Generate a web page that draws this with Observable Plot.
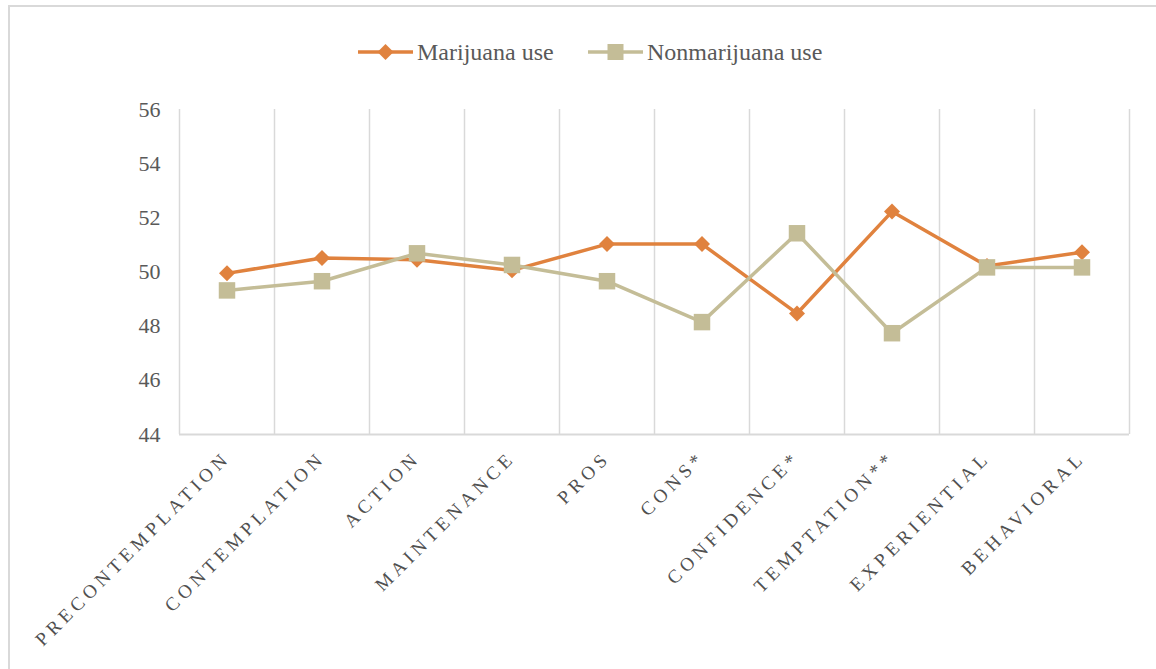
<!DOCTYPE html>
<html>
<head>
<meta charset="utf-8">
<script src="https://cdn.jsdelivr.net/npm/d3@7"></script>
<script src="https://cdn.jsdelivr.net/npm/@observablehq/plot@0.6"></script>
<style>
  html, body { margin: 0; padding: 0; background: #fff; overflow: hidden; width: 1156px; height: 669px; }
  #frame { position: absolute; left: 8px; top: 5px; width: 1200px; height: 720px; border: 2px solid #d9d9d9; box-sizing: border-box; }
  #chart { position: absolute; left: 0; top: 0; }
  #legend { position: absolute; left: 0; top: 34px; width: 1156px; height: 36px; }
  #chart g[aria-label="x-axis tick label"] text { letter-spacing: 4.5px; }
</style>
</head>
<body>
<div id="frame"></div>
<div id="chart"></div>
<div id="legend"></div>
<script>
const categories = ["PRECONTEMPLATION","CONTEMPLATION","ACTION","MAINTENANCE","PROS","CONS*","CONFIDENCE*","TEMPTATION**","EXPERIENTIAL","BEHAVIORAL"];
const marijuanaUse    = [49.95, 50.52, 50.45, 50.06, 51.03, 51.03, 48.47, 52.23, 50.22, 50.73];
const nonmarijuanaUse = [49.32, 49.66, 50.69, 50.26, 49.66, 48.15, 51.43, 47.74, 50.17, 50.17];
const yTicks = [44, 46, 48, 50, 52, 54, 56];
const seriesNames = ["Marijuana use", "Nonmarijuana use"];
const seriesColors = ["#E0823E", "#C4BD97"];

const idx = d3.range(categories.length);
const mData = idx.map(i => ({i, v: marijuanaUse[i]}));
const nData = idx.map(i => ({i, v: nonmarijuanaUse[i]}));
const bounds = d3.range(categories.length + 1).map(i => i - 0.5);

const plot = Plot.plot({
  width: 1156,
  height: 669,
  marginTop: 109,
  marginBottom: 235,
  marginLeft: 179,
  marginRight: 27,
  style: { fontFamily: "'Liberation Serif', 'Times New Roman', serif", color: "#595959", background: "transparent" },
  x: { type: "linear", domain: [-0.5, categories.length - 0.5], label: null },
  y: { domain: [44, 56], label: null },
  marks: [
    Plot.ruleX(bounds, { stroke: "#d9d9d9", strokeWidth: 1.5 }),
    Plot.ruleY([44], { stroke: "#d9d9d9", strokeWidth: 2 }),
    Plot.axisY({ ticks: yTicks, tickSize: 0, tickPadding: 19, fontSize: 22, fill: "#595959", label: null }),
    Plot.axisX({ ticks: idx, tickFormat: i => categories[i], tickRotate: -45, tickSize: 0, tickPadding: 20, fontSize: 19, fill: "#505050", label: null }),
    Plot.line(mData, { x: "i", y: "v", stroke: seriesColors[0], strokeWidth: 3.5 }),
    Plot.dot(mData, { x: "i", y: "v", symbol: "diamond2", r: 7.2, fill: seriesColors[0], stroke: "none" }),
    Plot.line(nData, { x: "i", y: "v", stroke: seriesColors[1], strokeWidth: 3.5 }),
    Plot.dot(nData, { x: "i", y: "v", symbol: "square", r: 9.3, fill: seriesColors[1], stroke: "none" })
  ]
});
document.getElementById("chart").appendChild(plot);

// Legend
const lg = d3.select("#legend").append("svg").attr("width", 1156).attr("height", 36)
  .style("font-family", "'Liberation Serif', 'Times New Roman', serif");
const items = [{x: 358, name: seriesNames[0], color: seriesColors[0], sym: "diamond"}, {x: 588, name: seriesNames[1], color: seriesColors[1], sym: "square"}];
for (const it of items) {
  const g = lg.append("g").attr("transform", `translate(${it.x},18)`);
  g.append("line").attr("x1", 0).attr("x2", 55).attr("y1", 0).attr("y2", 0).attr("stroke", it.color).attr("stroke-width", 3.5);
  if (it.sym === "diamond") {
    g.append("path").attr("d", "M27.5,-8L35.5,0L27.5,8L19.5,0Z").attr("fill", it.color);
  } else {
    g.append("rect").attr("x", 19.5).attr("y", -8).attr("width", 16).attr("height", 16).attr("fill", it.color);
  }
  g.append("text").attr("x", 59).attr("y", 0).attr("dy", "0.33em").attr("font-size", 24).attr("fill", "#595959").text(it.name);
}
</script>
</body>
</html>
